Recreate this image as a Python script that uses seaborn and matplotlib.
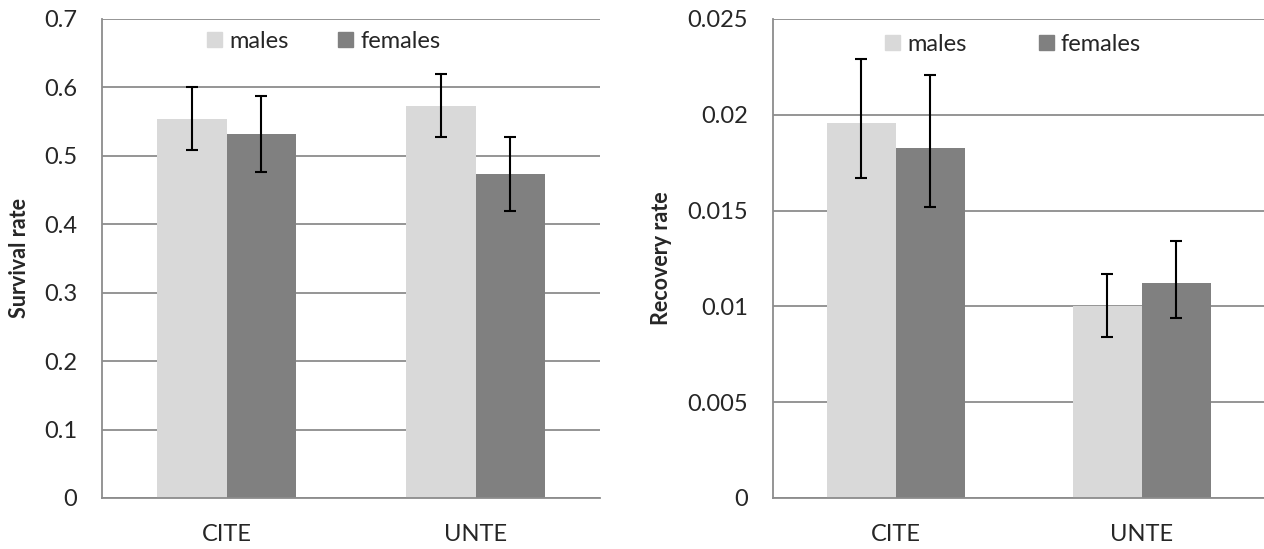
import matplotlib
matplotlib.use('Agg')
import matplotlib.pyplot as plt
import matplotlib.patches as mpatches
import seaborn as sns
import pandas as pd
import numpy as np

# data
groups = ['CITE', 'UNTE']
sexes = ['males', 'females']

survival_males = [0.554, 0.573]
survival_females = [0.532, 0.473]
survival_males_lo = [0.509, 0.527]
survival_males_hi = [0.600, 0.619]
survival_females_lo = [0.476, 0.420]
survival_females_hi = [0.588, 0.528]

recovery_males = [0.01956, 0.0100]
recovery_females = [0.01828, 0.0112]
recovery_males_lo = [0.0167, 0.0084]
recovery_males_hi = [0.0229, 0.0117]
recovery_females_lo = [0.0152, 0.0094]
recovery_females_hi = [0.0221, 0.0134]

survival_ticks = [0, 0.1, 0.2, 0.3, 0.4, 0.5, 0.6, 0.7]
recovery_ticks = [0, 0.005, 0.01, 0.015, 0.02, 0.025]
survival_ticklabels = ['0', '0.1', '0.2', '0.3', '0.4', '0.5', '0.6', '0.7']
recovery_ticklabels = ['0', '0.005', '0.01', '0.015', '0.02', '0.025']

colors = {'males': '#d9d9d9', 'females': '#808080'}
grid_color = '#8c8c8c'

sns.set_style('white')
plt.rcParams['font.family'] = ['Lato', 'DejaVu Sans']


def make_df(m, f, m_lo, m_hi, f_lo, f_hi):
    return pd.DataFrame({
        'group': groups * 2,
        'sex': ['males'] * 2 + ['females'] * 2,
        'value': m + f,
        'lo': m_lo + f_lo,
        'hi': m_hi + f_hi,
    })


def draw_panel(ax, df, ylabel, ticks, ticklabels, label_x, leg_pos, colspace):
    sns.barplot(data=df, x='group', y='value', hue='sex', order=groups, hue_order=sexes,
                palette=colors, width=0.56, gap=0, errorbar=None, ax=ax, legend=False,
                zorder=2, linewidth=0)
    # error bars at bar centres
    for container, sex in zip(ax.containers, sexes):
        sub = df[df['sex'] == sex].set_index('group').loc[groups]
        xs = [b.get_x() + b.get_width() / 2 for b in container]
        vals = sub['value'].values
        yerr = np.vstack([vals - sub['lo'].values, sub['hi'].values - vals])
        ax.errorbar(xs, vals, yerr=yerr, fmt='none', ecolor='black', elinewidth=1.5,
                    capsize=4.5, capthick=1.5, zorder=3)

    ax.set_ylim(ticks[0], ticks[-1])
    ax.set_xlim(-0.5, 1.5)
    ax.set_yticks(ticks)
    ax.set_yticklabels(ticklabels, fontsize=17)
    ax.yaxis.grid(True, color=grid_color, linewidth=1.3, zorder=0)
    ax.set_axisbelow(True)
    ax.tick_params(axis='y', length=5, color=grid_color, width=1.3, pad=13)
    ax.set_xticks([0, 1])
    ax.set_xticklabels(groups, fontsize=17)
    ax.set_xticks([-0.5, 0.5, 1.5], minor=True)
    ax.tick_params(axis='x', which='major', length=0, pad=19)
    ax.tick_params(axis='x', which='minor', length=6, color=grid_color, width=1.3)
    ax.set_xlabel('')
    ax.set_ylabel(ylabel, fontsize=15.5, fontweight='bold')
    ax.yaxis.set_label_coords(label_x, 0.5)
    for side in ['top', 'right']:
        ax.spines[side].set_visible(False)
    for side in ['left', 'bottom']:
        ax.spines[side].set_color(grid_color)
        ax.spines[side].set_linewidth(1.3)

    handles = [mpatches.Patch(color=colors[s], label=s) for s in sexes]
    ax.legend(handles=handles, loc='upper left', bbox_to_anchor=leg_pos, ncol=2,
              frameon=False, fontsize=17, handlelength=0.64, handleheight=0.64,
              handletextpad=0.3, columnspacing=colspace, borderpad=0, borderaxespad=0)


fig = plt.figure(figsize=(12.64, 5.49), dpi=100)
ax1 = fig.add_axes([0.0807, 0.0929, 0.394, 0.8725])
ax2 = fig.add_axes([0.6115, 0.0929, 0.3890, 0.8725])

df_surv = make_df(survival_males, survival_females, survival_males_lo, survival_males_hi,
                  survival_females_lo, survival_females_hi)
df_rec = make_df(recovery_males, recovery_females, recovery_males_lo, recovery_males_hi,
                 recovery_females_lo, recovery_females_hi)

draw_panel(ax1, df_surv, 'Survival rate', survival_ticks, survival_ticklabels,
           -0.1446, (0.211, 0.975), 2.1)
draw_panel(ax2, df_rec, 'Recovery rate', recovery_ticks, recovery_ticklabels,
           -0.205, (0.228, 0.969), 3.05)

fig.savefig('out.png', dpi=100)
